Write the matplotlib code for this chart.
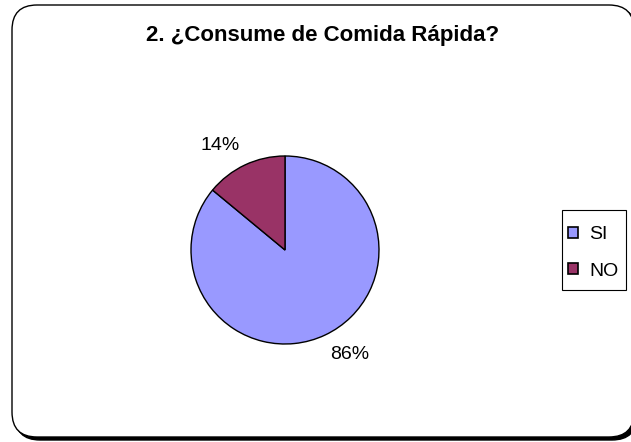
import matplotlib.pyplot as plt
from matplotlib.patches import FancyBboxPatch, Rectangle

plt.rcParams['font.family'] = ['Liberation Sans', 'DejaVu Sans']

title = "2. ¿Consume de Comida Rápida?"
labels = ["SI", "NO"]
values = [86, 14]
colors = ["#9999FF", "#993366"]

W, H = 631, 442
fig = plt.figure(figsize=(W / 100, H / 100), dpi=100)

# rounded chart border with shadow (pixel coords -> figure fraction)
def fbox(x0, y0, x1, y1, **kw):
    return FancyBboxPatch((x0 / W, 1 - y1 / H), (x1 - x0) / W, (y1 - y0) / H,
                          boxstyle="round,pad=0,rounding_size=%f" % (25 / W),
                          transform=fig.transFigure, mutation_aspect=W / H,
                          zorder=-5, **kw)

fig.patches.append(fbox(15, 8, 637, 440, facecolor="black", edgecolor="black", lw=1))
fig.patches.append(fbox(12, 5, 634, 437, facecolor="white", edgecolor="black", lw=1))

# pie: center (285,250), radius 94 px
cx, cy, r = 285, 250, 94
ax = fig.add_axes([(cx - r) / W, (H - cy - r) / H, 2 * r / W, 2 * r / H])
ax.set_zorder(1)
wedges, texts, autotexts = ax.pie(values, colors=colors, startangle=90, counterclock=False,
                                  autopct='%1.0f%%', pctdistance=1.13,
                                  wedgeprops=dict(edgecolor="black", linewidth=1),
                                  textprops=dict(fontsize=14, color="black"))
# labels sit outside the pie, anchored by their inner corner
for t in autotexts:
    x, y = t.get_position()
    t.set_ha('left' if x > 0 else 'right')
    t.set_va('bottom' if y > 0 else 'top')
ax.set_xlim(-1, 1)
ax.set_ylim(-1, 1)
ax.set_aspect('equal')
ax.axis('off')

fig.text(323 / W, 1 - 36 / H, title, ha='center', va='center',
         fontsize=16, fontweight='bold')

# legend frame
fig.patches.append(Rectangle((562 / W, 1 - 290 / H), 64 / W, 80 / H, transform=fig.transFigure,
                             facecolor='white', edgecolor='black', lw=0.8, zorder=2))
leg = fig.legend(wedges, labels, loc='center left', bbox_to_anchor=(568 / W, 1 - 253 / H),
                 frameon=False, fontsize=14, handlelength=0.5, handleheight=0.5,
                 handletextpad=0.6, labelspacing=1.0, borderpad=0, borderaxespad=0)
leg.set_zorder(5)
for h in leg.legend_handles:
    h.set_edgecolor('black')
    h.set_linewidth(1.2)

fig.savefig("out.png", dpi=100)
